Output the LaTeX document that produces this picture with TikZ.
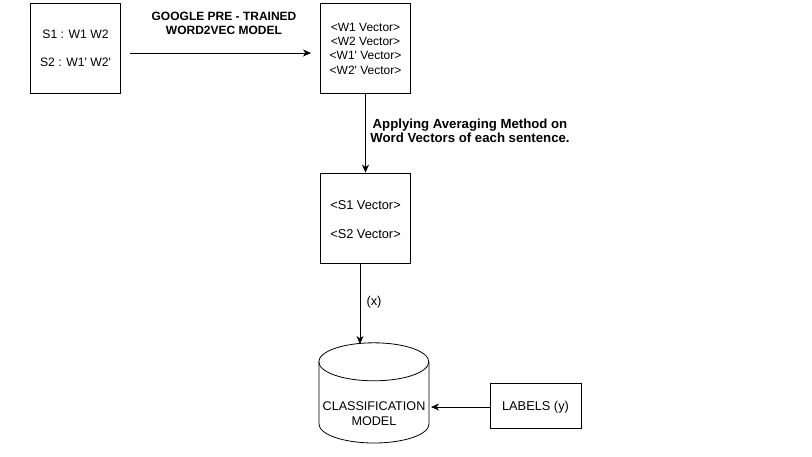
\documentclass[tikz,border=0pt]{standalone}
\usepackage{fontspec}
\setmainfont{Liberation Sans}[Ligatures=TeXOff]
\usetikzlibrary{arrows.meta}
\begin{document}
\begin{tikzpicture}[x=1pt,y=-1pt,
  box/.style={draw,line width=0.8pt,minimum width=90pt,minimum height=90pt,inner sep=0pt,align=center},
  conn/.style={line width=0.8pt,-{Stealth[length=8pt,width=7pt,inset=2.5pt]}},
  lbl/.style={font=\bfseries\fontsize{12}{13.5}\selectfont,align=center,inner sep=0pt},
  txt/.style={font=\fontsize{12.8}{15}\selectfont,align=center,inner sep=0pt}]
\useasboundingbox (0,0) rectangle (812,456);
\fill[white] (0,0) rectangle (812,456);
\node[box] (s) at (75.5,48) {};
\node[txt,font=\fontsize{12.2}{14}\selectfont] (s1) at (75.5,34) {S1 : W1 W2};
\node[txt,font=\fontsize{12.2}{14}\selectfont] (s2) at (75.5,62) {S2 : W1' W2'};
\node[box] (w) at (365.5,48) {};
\node[font=\fontsize{12}{14.3}\selectfont,align=center,inner sep=0pt] (wt) at (365.5,48.5) {<W1 Vector>\\<W2 Vector>\\<W1' Vector>\\<W2' Vector>};
\node[box] (v) at (365.5,218) {};
\node[txt] (v1) at (365.5,205) {<S1 Vector>};
\node[txt] (v2) at (365.5,234) {<S2 Vector>};
\node[inner sep=0pt,minimum width=110pt,minimum height=100pt] (cyl) at (374,393) {};
\draw[line width=0.8pt] (cyl.north west) ++(0,19) arc[start angle=180,end angle=-180,x radius=55,y radius=19];
\draw[line width=0.8pt] (319,362) -- (319,424) arc[start angle=180,end angle=360,x radius=55,y radius=-19] -- (429,362);
\node[txt,font=\fontsize{12.6}{15}\selectfont,text depth=0pt] (ct) at (374,414) {CLASSIFICATION\\MODEL};
\node[draw,line width=0.8pt,minimum width=91pt,minimum height=45pt,inner sep=0pt] (lab) at (535.5,405.5) {};
\node[txt] (labt) at (535.5,407) {LABELS (y)};
\coordinate (a1s) at (130,53);
\coordinate (a1e) at (311,53);
\draw[conn] (a1s) -- (a1e);
\node[lbl] (g) at (224,23.5) {GOOGLE PRE - TRAINED\\WORD2VEC MODEL};
\draw[conn] (w.south) -- (v.north);
\node[lbl,font=\bfseries\fontsize{13.2}{14}\selectfont] (avg) at (470,131) {Applying Averaging Method on\\Word Vectors of each sentence.};
\coordinate (xs) at (360,263);
\coordinate (xe) at (360,344);
\draw[conn] (xs) -- (xe);
\node[txt] (x) at (374,302) {(x)};
\coordinate (ye) at (431,407);
\draw[conn] (lab.west |- ye) -- (ye);
\end{tikzpicture}
\end{document}
